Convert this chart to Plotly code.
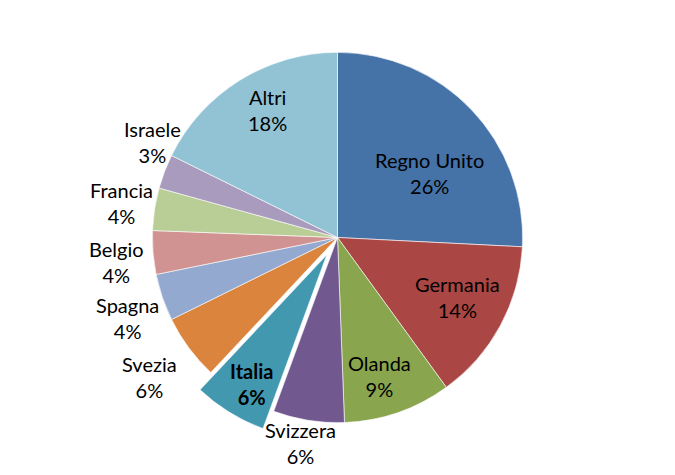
import math
import plotly.graph_objects as go

labels = ["Regno Unito", "Germania", "Olanda", "Svizzera", "Italia", "Svezia",
          "Spagna", "Belgio", "Francia", "Israele", "Altri"]
values = [25.8, 14.2, 9.4, 6.2, 6.4, 5.7, 4.1, 3.8, 3.7, 3.0, 17.7]
colors = ["#4572A7", "#AA4643", "#89A54E", "#71588F", "#4198AF", "#DB843D",
          "#93A9CF", "#D19392", "#B9CD96", "#A99BBD", "#91C3D5"]
highlight = "Italia"

# label styling: (distance from pie centre in radii, angular nudge in degrees)
label_place = {
    "Regno Unito": (0.60, 9.6), "Germania": (0.73, -1.4), "Olanda": (0.79, 2.4),
    "Svizzera": (1.14, 1.0), "Italia": (0.93, -1.6), "Svezia": (1.27, -0.4),
    "Spagna": (1.22, -2.4), "Belgio": (1.2, -2.3), "Francia": (1.18, -0.3),
    "Israele": (1.12, 5.9), "Altri": (0.775, 2.7),
}
PULL = 0.11

W, H = 675, 475
# page body adds an 8px offset, so the pie lands centred at (337.5, 237.5) on screen
L, R_, T, B = 124, 140, 24, 40
PW, PH = W - L - R_, H - T - B
CX, CY = L + PW / 2, T + PH / 2
RAD = min(PW, PH) / 2 / (1 + PULL)
FONT = "Lato, Calibri, sans-serif"
FS = 20

pulls = [PULL if lab == highlight else 0 for lab in labels]

fig = go.Figure(go.Pie(
    labels=labels,
    values=values,
    textinfo="none",
    sort=False,
    direction="clockwise",
    rotation=0,
    pull=pulls,
    marker=dict(colors=colors, line=dict(color="white", width=0.6)),
    showlegend=False,
    automargin=False,
    hoverinfo="label+percent",
))

total = sum(values)
cum = 0
annotations = []
for lab, v in zip(labels, values):
    dist, nudge = label_place[lab]
    mid = (cum + v / 2) / total * 2 * math.pi + math.radians(nudge)
    cum += v
    ux, uy = math.sin(mid), -math.cos(mid)
    rl = RAD * dist
    px, py = CX + ux * rl, CY + uy * rl - 2
    txt = f"{lab}<br>{round(v / total * 100)}%"
    if lab == highlight:
        txt = f"<b>{txt}</b>"
    annotations.append(dict(
        x=(px - L) / PW, y=1 - (py - T) / PH, xref="paper", yref="paper",
        text=txt, showarrow=False, xanchor="center", yanchor="middle",
        font=dict(family=FONT, size=FS, color="black"), align="center",
    ))

fig.update_layout(
    width=W, height=H,
    margin=dict(l=L, r=R_, t=T, b=B),
    paper_bgcolor="white",
    plot_bgcolor="white",
    annotations=annotations,
)

fig.write_html("out.html")
